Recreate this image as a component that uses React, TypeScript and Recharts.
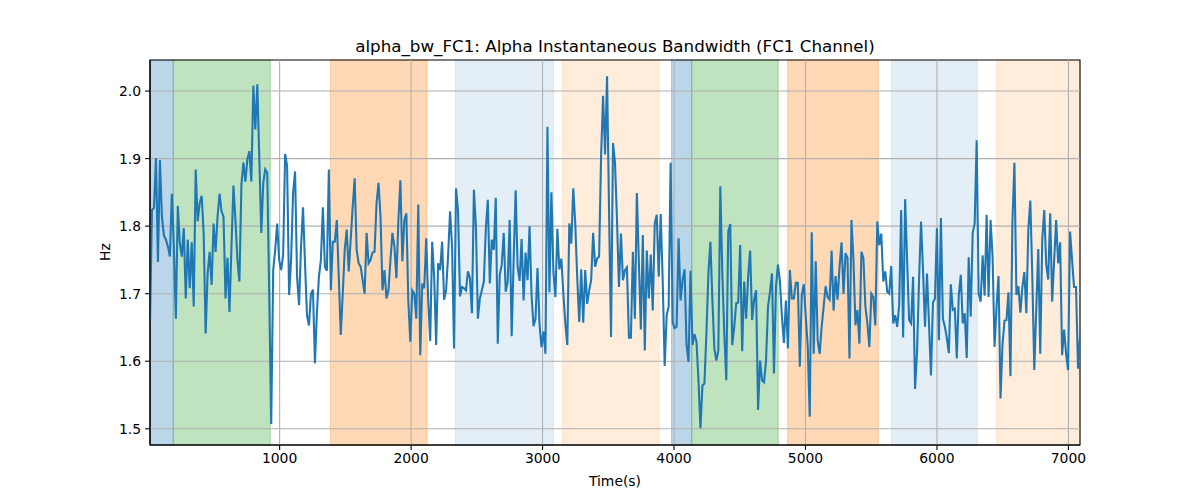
import React from 'react';
import { LineChart, Line, XAxis, YAxis, ReferenceArea, ReferenceLine } from 'recharts';

// sampling of the trace (seconds)
const T_START = 14;
const T_END = 7088;

// alpha bandwidth, left to right
const bandwidth = [
    1.658, 1.824, 1.827, 1.901, 1.747, 1.898, 1.814, 1.786, 1.78, 1.77,
    1.755, 1.848, 1.77, 1.663, 1.83, 1.775, 1.755, 1.797, 1.693, 1.78,
    1.708, 1.776, 1.681, 1.884, 1.807, 1.834, 1.845, 1.79, 1.641, 1.73,
    1.762, 1.713, 1.804, 1.762, 1.814, 1.848, 1.822, 1.814, 1.693, 1.753,
    1.673, 1.77, 1.86, 1.809, 1.75, 1.718, 1.861, 1.894, 1.866, 1.899,
    1.911, 1.866, 2.008, 1.943, 2.01, 1.901, 1.79, 1.864, 1.884, 1.879,
    1.70,
    1.507, 1.735, 1.765, 1.804, 1.75, 1.735, 1.757, 1.907, 1.889, 1.698,
    1.75, 1.849, 1.881, 1.725, 1.683, 1.77, 1.828, 1.745, 1.668, 1.653,
    1.7, 1.706, 1.597, 1.673, 1.725, 1.75, 1.828, 1.74, 1.734, 1.884,
    1.705, 1.777, 1.777, 1.809, 1.725, 1.639, 1.7, 1.765, 1.795, 1.733,
    1.78, 1.829, 1.871, 1.765, 1.745, 1.74, 1.72, 1.7, 1.79, 1.745,
    1.75, 1.761, 1.762, 1.834, 1.864, 1.814, 1.705, 1.735,
    1.693, 1.705, 1.75, 1.79, 1.77, 1.723, 1.809, 1.868, 1.748, 1.809,
    1.819, 1.688, 1.629, 1.705, 1.7, 1.663, 1.832, 1.609, 1.715, 1.708,
    1.782, 1.691, 1.63, 1.777, 1.725, 1.624, 1.745, 1.735, 1.777, 1.691,
    1.705, 1.755, 1.822, 1.77, 1.619, 1.856, 1.824, 1.696, 1.71, 1.708,
    1.705, 1.733, 1.723, 1.671, 1.854, 1.8, 1.663, 1.693, 1.705, 1.718,
    1.797, 1.839, 1.715, 1.78, 1.765, 1.842, 1.626, 1.728,
    1.743, 1.79, 1.703, 1.718, 1.809, 1.637, 1.75, 1.853, 1.74, 1.719,
    1.781, 1.69, 1.761, 1.72, 1.8, 1.698, 1.652, 1.663, 1.738, 1.656,
    1.621, 1.644, 1.611, 1.947, 1.702, 1.85, 1.733, 1.695, 1.796, 1.736,
    1.752, 1.7, 1.656, 1.624, 1.804, 1.774, 1.856, 1.804, 1.723, 1.658,
    1.736, 1.657, 1.735, 1.685, 1.705, 1.72, 1.79, 1.74, 1.752, 1.755,
    1.903, 1.993, 1.906, 2.022, 1.824, 1.636, 1.923, 1.894,
    1.809, 1.71, 1.789, 1.72, 1.735, 1.739, 1.635, 1.635, 1.762, 1.663,
    1.849, 1.748, 1.647, 1.787, 1.616, 1.764, 1.693, 1.758, 1.675, 1.804,
    1.817, 1.725, 1.818, 1.72, 1.593, 1.668, 1.681, 1.894, 1.658, 1.649,
    1.651, 1.782, 1.69, 1.72, 1.736, 1.624, 1.599, 1.734, 1.624, 1.64,
    1.629, 1.572, 1.501, 1.564, 1.567, 1.641, 1.73, 1.777, 1.691, 1.619,
    1.601, 1.616, 1.859, 1.73, 1.641, 1.572, 1.792, 1.803,
    1.624, 1.651, 1.686, 1.687, 1.772, 1.615, 1.718, 1.663, 1.725, 1.764,
    1.661, 1.691, 1.705, 1.528, 1.601, 1.572, 1.569, 1.601, 1.681, 1.703,
    1.73, 1.582, 1.71, 1.743, 1.718, 1.666, 1.627, 1.69, 1.619, 1.735,
    1.693, 1.693, 1.716, 1.716, 1.592, 1.698, 1.714, 1.666, 1.621, 1.518,
    1.791, 1.611, 1.748, 1.631, 1.611, 1.651, 1.681, 1.711, 1.695, 1.691,
    1.764, 1.675, 1.726, 1.691, 1.74, 1.776, 1.7, 1.76,
    1.753, 1.604, 1.809, 1.75, 1.653, 1.676, 1.626, 1.762, 1.753, 1.681,
    1.656, 1.621, 1.7, 1.695, 1.653, 1.807, 1.772, 1.789, 1.718, 1.733,
    1.703, 1.7, 1.741, 1.656, 1.668, 1.651, 1.683, 1.824, 1.635, 1.84,
    1.75, 1.661, 1.656, 1.725, 1.559, 1.614, 1.72, 1.807, 1.735, 1.651,
    1.73, 1.656, 1.579, 1.687, 1.693, 1.797, 1.631, 1.812, 1.663, 1.651,
    1.634, 1.612, 1.714, 1.676, 1.678, 1.604, 1.698,
    1.728, 1.656, 1.671, 1.605, 1.754, 1.666, 1.79, 1.804, 1.927, 1.7,
    1.688, 1.757, 1.697, 1.817, 1.695, 1.809, 1.755, 1.621, 1.681, 1.726,
    1.545, 1.624, 1.66, 1.661, 1.702, 1.578, 1.807, 1.894, 1.698, 1.711,
    1.672, 1.71, 1.732, 1.671, 1.795, 1.838, 1.725, 1.587, 1.678, 1.766,
    1.611, 1.78, 1.824, 1.743, 1.721, 1.819, 1.688, 1.75, 1.809, 1.745,
    1.776, 1.609, 1.647, 1.611, 1.587, 1.792, 1.75, 1.71, 1.71, 1.589,
    1.636,
];

// shaded phases: start, end (s)
const phaseStarts = [14, 191, 1386, 2337, 3151, 3981, 4135, 4864, 5655, 6454];
const phaseEnds = [191, 929, 2122, 3083, 3887, 4135, 4793, 5554, 6307, 7088];
const phaseKinds = [0, 1, 2, 3, 4, 0, 1, 2, 3, 4];

const xTicks = [1000, 2000, 3000, 4000, 5000, 6000, 7000];
const yTicks = [1.5, 1.6, 1.7, 1.8, 1.9, 2.0];

const phaseStyle = [
    { color: '#1f77b4', alpha: 0.3 },
    { color: '#2ca02c', alpha: 0.3 },
    { color: '#ff7f0e', alpha: 0.3 },
    { color: '#1f77b4', alpha: 0.12 },
    { color: '#ff7f0e', alpha: 0.15 },
];

const step = (T_END - T_START) / (bandwidth.length - 1);
const data = bandwidth.map((v, i) => ({ t: T_START + i * step, v }));

const Y_MIN = 1.476;
const Y_MAX = 2.046;
const FONT = '"DejaVu Sans", sans-serif';

export default function App() {
    return (
        <div style={{ position: 'absolute', left: 0, top: 0, width: 1200, height: 500, background: '#fff', fontFamily: FONT }}>
            <div style={{ position: 'absolute', left: 150, width: 930, top: 36, textAlign: 'center', fontSize: 16.7, color: '#000', lineHeight: '20px' }}>
                alpha_bw_FC1: Alpha Instantaneous Bandwidth (FC1 Channel)
            </div>
            <div style={{ position: 'absolute', left: 150, width: 930, top: 472, textAlign: 'center', fontSize: 13.9, color: '#000', lineHeight: '18px' }}>
                Time(s)
            </div>
            <div style={{ position: 'absolute', left: 105, top: 252, transform: 'translate(-50%, -50%) rotate(-90deg)', fontSize: 13.9, color: '#000', lineHeight: '18px' }}>
                Hz
            </div>
            <LineChart width={1200} height={500} data={data} margin={{ top: 60, right: 120, bottom: 25, left: 90 }}>
                <XAxis
                    dataKey="t"
                    type="number"
                    domain={[T_START, T_END]}
                    allowDataOverflow
                    ticks={xTicks}
                    height={30}
                    tickSize={4.9}
                    tickMargin={3}
                    axisLine={{ stroke: '#000', strokeWidth: 1.1 }}
                    tickLine={{ stroke: '#000', strokeWidth: 1.1 }}
                    tick={{ fontSize: 13.9, fill: '#000', fontFamily: FONT }}
                />
                <YAxis
                    type="number"
                    domain={[Y_MIN, Y_MAX]}
                    allowDataOverflow
                    ticks={yTicks}
                    width={60}
                    tickSize={4.9}
                    tickMargin={4}
                    tickFormatter={(v: number) => v.toFixed(1)}
                    axisLine={{ stroke: '#000', strokeWidth: 1.1 }}
                    tickLine={{ stroke: '#000', strokeWidth: 1.1 }}
                    tick={{ fontSize: 13.9, fill: '#000', fontFamily: FONT }}
                />
                {phaseStarts.map((s, i) => {
                    const st = phaseStyle[phaseKinds[i]];
                    return (
                        <ReferenceArea
                            key={'ph' + i}
                            x1={s}
                            x2={phaseEnds[i]}
                            y1={Y_MIN}
                            y2={Y_MAX}
                            fill={st.color}
                            fillOpacity={st.alpha}
                            stroke={st.color}
                            strokeOpacity={st.alpha}
                            strokeWidth={1}
                        />
                    );
                })}
                {xTicks.map(t => (
                    <ReferenceLine key={'gx' + t} x={t} stroke="#b0b0b0" strokeWidth={1.1} />
                ))}
                {yTicks.map(t => (
                    <ReferenceLine key={'gy' + t} y={t} stroke="#b0b0b0" strokeWidth={1.1} />
                ))}
                <Line
                    type="linear"
                    dataKey="v"
                    stroke="#1f77b4"
                    strokeWidth={2.08}
                    dot={false}
                    activeDot={false}
                    isAnimationActive={false}
                />
                <ReferenceArea x1={T_START} x2={T_END} y1={Y_MIN} y2={Y_MAX} fill="none" stroke="#000" strokeWidth={1.1} />
            </LineChart>
        </div>
    );
}
